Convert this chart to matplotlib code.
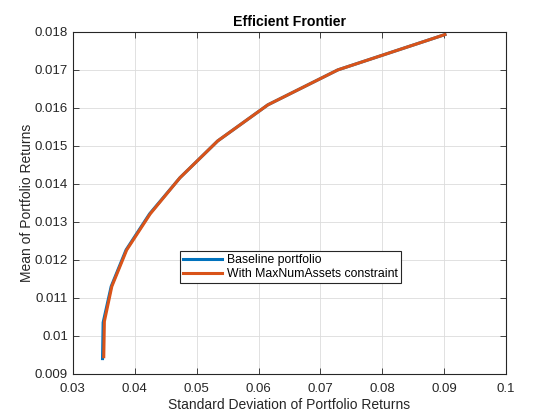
import matplotlib
matplotlib.use('Agg')
import matplotlib.pyplot as plt

# portfolio risk / return
base_std = [0.0348, 0.0349, 0.0362, 0.0386, 0.0424, 0.0473, 0.0534, 0.0615, 0.0728, 0.0901]
base_mean = [0.00940, 0.01035, 0.01130, 0.01226, 0.01321, 0.01416, 0.01513, 0.01608, 0.01700, 0.01793]
cons_std = [0.0350, 0.0351, 0.0363, 0.0387, 0.0425, 0.0473, 0.0534, 0.0615, 0.0728, 0.0901]
cons_mean = [0.00945, 0.01038, 0.01130, 0.01226, 0.01321, 0.01416, 0.01513, 0.01608, 0.01700, 0.01793]

xticks = [0.03, 0.04, 0.05, 0.06, 0.07, 0.08, 0.09, 0.1]
xticklabels = ['0.03', '0.04', '0.05', '0.06', '0.07', '0.08', '0.09', '0.1']
yticks = [0.009, 0.01, 0.011, 0.012, 0.013, 0.014, 0.015, 0.016, 0.017, 0.018]
yticklabels = ['0.009', '0.01', '0.011', '0.012', '0.013', '0.014', '0.015', '0.016', '0.017', '0.018']

plt.rcParams['font.family'] = ['Liberation Sans', 'DejaVu Sans']

fig = plt.figure(figsize=(5.6, 4.2), dpi=100)
ax = fig.add_axes([0.13, 0.11, 0.774, 0.814])

ax.plot(base_std, base_mean, color='#0072BD', lw=2.2, label='Baseline portfolio')
ax.plot(cons_std, cons_mean, color='#D95319', lw=2.2, label='With MaxNumAssets constraint')

ax.set_xlim(0.03, 0.1)
ax.set_ylim(0.009, 0.018)
ax.set_xticks(xticks)
ax.set_xticklabels(xticklabels)
ax.set_yticks(yticks)
ax.set_yticklabels(yticklabels)
ax.tick_params(direction='in', top=True, right=True, labelsize=9.5, length=4, width=0.6,
               colors='#262626')
ax.tick_params(axis='x', pad=6.5)
ax.tick_params(axis='y', pad=3.5)
ax.grid(True, color='#dcdcdc', lw=0.6)
ax.set_axisbelow(True)
for s in ax.spines.values():
    s.set_linewidth(0.8)
    s.set_color('#262626')

ax.set_xlabel('Standard Deviation of Portfolio Returns', fontsize=10, color='#262626', labelpad=2)
ax.set_ylabel('Mean of Portfolio Returns', fontsize=10, color='#262626', labelpad=0.5)
ax.set_title('Efficient Frontier', fontsize=10.2, fontweight='bold', pad=4.5)

leg = ax.legend(loc='lower left', bbox_to_anchor=(0.247, 0.266), fontsize=8.8,
                frameon=True, fancybox=False, edgecolor='#262626', framealpha=1,
                handlelength=3.2, borderpad=0.25, labelspacing=0.15, handletextpad=0.4,
                borderaxespad=0)
leg.get_frame().set_linewidth(0.8)

fig.savefig('out.png', dpi=100)
